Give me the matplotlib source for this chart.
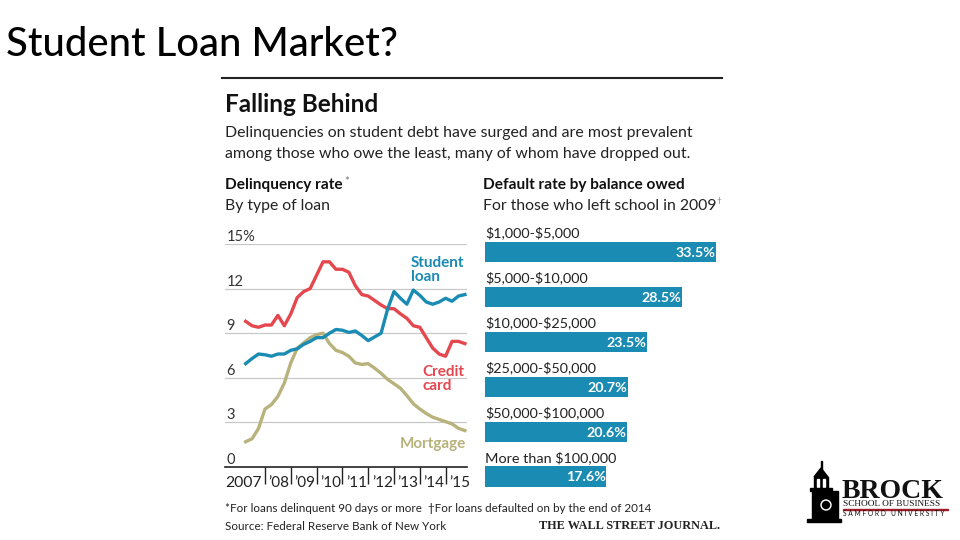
import numpy as np
import matplotlib.pyplot as plt
from matplotlib.patches import Rectangle, Polygon, Circle

plt.rcParams['font.family'] = ['Lato', 'DejaVu Sans']
plt.rcParams['text.parse_math'] = False

# Delinquency rate by type of loan, quarterly 2007 Q2 - 2015 Q4 (percent)
quarters = 2007.25 + 0.25 * np.arange(35)
credit_card = [9.8, 9.5, 9.4, 9.55, 9.55, 10.2, 9.5, 10.3, 11.4, 11.8,
               12.0, 12.9, 13.8, 13.8, 13.3, 13.3, 13.1, 12.2, 11.6, 11.5,
               11.2, 10.9, 10.65, 10.65, 10.3, 10.0, 9.5, 9.4, 8.7, 8.0,
               7.6, 7.45, 8.45, 8.45, 8.3]
student_loan = [6.95, 7.3, 7.6, 7.55, 7.45, 7.6, 7.6, 7.85, 7.95, 8.25,
                8.45, 8.7, 8.7, 9.0, 9.25, 9.2, 9.05, 9.15, 8.85, 8.5,
                8.75, 9.0, 10.6, 11.8, 11.35, 10.95, 11.9, 11.55, 11.1, 10.95,
                11.1, 11.35, 11.15, 11.5, 11.6]
mortgage = [1.7, 1.9, 2.6, 3.9, 4.2, 4.75, 5.65, 7.0, 8.0, 8.35,
            8.7, 8.9, 9.0, 8.3, 7.85, 7.7, 7.45, 7.0, 6.9, 6.95,
            6.65, 6.3, 5.9, 5.6, 5.3, 4.8, 4.25, 3.9, 3.6, 3.35,
            3.2, 3.05, 2.9, 2.6, 2.45]
year_ticks = [2008, 2009, 2010, 2011, 2012, 2013, 2014, 2015]
year_labels = ["\u201908", "\u201909", "\u201910", "\u201911",
               "\u201912", "\u201913", "\u201914", "\u201915"]
y_ticks = [0, 3, 6, 9, 12, 15]
y_labels = ['0', '3', '6', '9', '12', '15%']

# Default rate by balance owed, for those who left school in 2009
balances = ['$1,000-$5,000', '$5,000-$10,000', '$10,000-$25,000',
            '$25,000-$50,000', '$50,000-$100,000', 'More than $100,000']
default_rate = [33.5, 28.5, 23.5, 20.7, 20.6, 17.6]

BLUE = '#1a8bb3'
RED = '#e5474f'
KHAKI = '#b8b27c'
GRID = '#c8c8c8'

W, H = 960, 540
fig = plt.figure(figsize=(9.6, 5.4), dpi=100)
fig.patch.set_facecolor('white')


def px(x0, y_top, w, h):
    return [x0 / W, 1 - (y_top + h) / H, w / W, h / H]


def ftext(x, y, s, **kw):
    fig.text(x / W, 1 - y / H, s, **kw)


# slide title
ftext(6, 45, 'Student Loan Market?', fontsize=28.8, fontweight='medium', va='center', color='black')

# header
fig.add_artist(plt.Line2D([222 / W, 722 / W], [1 - 78 / H, 1 - 78 / H],
                          color='#222222', lw=1.5))
ftext(225, 104, 'Falling Behind', fontsize=17.5, fontweight='bold', va='center', color='#111111')
ftext(225, 133, 'Delinquencies on student debt have surged and are most prevalent',
      fontsize=11.4, va='center', color='#222222')
ftext(225, 154, 'among those who owe the least, many of whom have dropped out.',
      fontsize=11.4, va='center', color='#222222')
ftext(225, 185, 'Delinquency rate', fontsize=11.1, fontweight='bold', va='center', color='#111111')
ftext(344, 182, '*', fontsize=8, va='center', color='#777777')
ftext(483, 185, 'Default rate by balance owed', fontsize=11.1, fontweight='bold',
      va='center', color='#111111')
ftext(225, 206, 'By type of loan', fontsize=11.3, va='center', color='#222222')
ftext(483, 206, 'For those who left school in 2009', fontsize=11.3, va='center', color='#222222')
ftext(716, 201, '\u2020', fontsize=6, va='center', color='#777777')

# line chart
ax = fig.add_axes(px(225, 244, 242, 223))
ax.set_xlim(2006.45, 2015.83)
ax.set_ylim(0, 15)
for v in y_ticks[1:]:
    ax.axhline(v, color=GRID, lw=0.9, zorder=1)
for v, lab in zip(y_ticks, y_labels):
    ax.text(2006.5, v + 0.2, lab, fontsize=10.5, color='#333333', va='baseline', ha='left')
ax.plot(quarters, mortgage, color=KHAKI, lw=2.4, zorder=3, solid_joinstyle='round')
ax.plot(quarters, credit_card, color=RED, lw=2.4, zorder=4, solid_joinstyle='round')
ax.plot(quarters, student_loan, color=BLUE, lw=2.4, zorder=5, solid_joinstyle='round')
ax.text(2013.66, 13.25, 'Student\nloan', color=BLUE, fontsize=11, fontweight='bold',
        ha='left', va='center', linespacing=1.0)
ax.text(2014.09, 5.95, 'Credit\ncard', color=RED, fontsize=11, fontweight='bold',
        ha='left', va='center', linespacing=1.0)
ax.text(2013.23, 1.55, 'Mortgage', color=KHAKI, fontsize=11, fontweight='bold',
        ha='left', va='center')
for s in ['top', 'right', 'left']:
    ax.spines[s].set_visible(False)
ax.spines['bottom'].set_color('#222222')
ax.spines['bottom'].set_linewidth(1.2)
ax.set_yticks([])
ax.set_xticks(year_ticks)
ax.set_xticklabels([])
ax.tick_params(axis='x', direction='out', length=12, width=1, color='#222222')
ax.text(2006.47, -1.05, '2007', fontsize=11.3, color='#222222', va='center', ha='left')
for t, lab in zip(year_ticks, year_labels):
    ax.text(t + 0.14, -1.05, lab, fontsize=11, color='#222222', va='center', ha='left')
ax.patch.set_alpha(0)

# bar chart
bx = fig.add_axes(px(485, 229.5, 241.4, 269.5))
ypos = np.arange(len(balances))
bx.barh(ypos, default_rate, height=0.45, color=BLUE, zorder=2)
bx.set_xlim(0, 35)
bx.set_ylim(5.5, -0.5)
for y, lab, v in zip(ypos, balances, default_rate):
    bx.text(0, y - 0.42, lab, fontsize=10.4, color='#222222', va='center', ha='left')
    bx.text(v - 0.1, y + 0.02, f'{v:.1f}%', fontsize=10.3, fontweight='bold',
            color='white', va='center', ha='right')
bx.axis('off')

# footer
ftext(225, 509, '*For loans delinquent 90 days or more  \u2020For loans defaulted on by the end of 2014',
      fontsize=8.4, va='center', color='#222222')
ftext(225, 526, 'Source: Federal Reserve Bank of New York', fontsize=8.4, va='center', color='#222222')
ftext(720, 526, 'THE WALL STREET JOURNAL.', fontsize=8.8, fontweight='bold', va='center',
      ha='right', color='#222222', family='Liberation Serif')

# logo (pixel offsets from x=800, y=455)
lx = fig.add_axes(px(800, 455, 155, 70))
lx.set_xlim(0, 155)
lx.set_ylim(70, 0)
lx.axis('off')
lx.add_patch(Rectangle((20.5, 6), 1.2, 9, color='black'))
lx.add_patch(Polygon([[14, 22], [21, 13], [28, 22]], color='black'))
lx.add_patch(Rectangle((14, 22), 14, 12, color='black'))
lx.add_patch(Rectangle((17, 24), 2, 8, color='white'))
lx.add_patch(Rectangle((23, 24), 2, 8, color='white'))
lx.add_patch(Rectangle((10, 33), 22, 3, color='black'))
lx.add_patch(Rectangle((12, 36), 26, 30, color='black'))
lx.add_patch(Circle((26, 50), 5, color='white'))
lx.add_patch(Circle((26, 50), 3.5, color='black'))
lx.add_patch(Rectangle((7, 64), 34, 3, color='black'))
lx.text(42, 43.5, 'BROCK', fontsize=20, family='Liberation Serif', fontweight='bold',
        va='baseline', ha='left', color='#111111')
lx.text(43, 51.5, 'SCHOOL OF BUSINESS', fontsize=6.7, family='Liberation Serif',
        va='baseline', ha='left', color='#111111')
lx.add_patch(Rectangle((43, 53.5), 105, 1.3, color='#a01e2c'))
lx.text(43, 60.5, 'S A M F O R D   U N I V E R S I T Y', fontsize=4.8,
        va='baseline', ha='left', color='#111111')

fig.savefig('out.png', dpi=100, facecolor='white')
